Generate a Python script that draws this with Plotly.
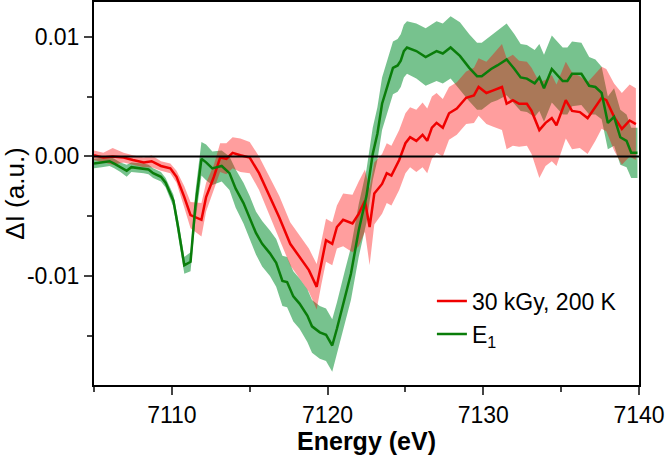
import plotly.graph_objects as go

# ---- data ----
energy_red = [7105.0, 7105.6, 7106.2, 7106.9, 7107.5, 7108.2, 7108.7, 7109.3, 7109.9, 7110.3,
              7110.8, 7111.2, 7111.9, 7112.2, 7112.7, 7113.1, 7113.5, 7113.9, 7114.4, 7115.0,
              7115.6, 7116.3, 7116.9, 7117.6, 7118.2, 7118.8, 7119.3, 7119.6, 7119.9, 7120.3,
              7120.6, 7121.0, 7121.6, 7122.0, 7122.4, 7122.7, 7123.0, 7123.5, 7123.8, 7124.1,
              7124.6, 7125.0, 7125.3, 7125.7, 7126.1, 7126.4, 7126.7, 7127.0, 7127.4, 7127.8,
              7128.3, 7128.9, 7129.4, 7129.7, 7130.2, 7130.6, 7131.2, 7131.5, 7131.9, 7132.3,
              7132.8, 7133.1, 7133.6, 7134.0, 7134.4, 7134.7, 7135.3, 7135.7, 7136.2, 7136.7,
              7137.2, 7137.6, 7137.9, 7138.4, 7138.9, 7139.4, 7139.8]
dI_red = [0.0001, -0.0001, 0.0000, -0.0001, -0.0003, -0.0005, -0.0004, -0.0008, -0.0010, -0.0017,
          -0.0034, -0.0049, -0.0053, -0.0034, -0.0017, -0.0001, -0.0002, 0.0003, 0.0001, -0.0001,
          -0.0014, -0.0034, -0.0051, -0.0073, -0.0084, -0.0095, -0.0109, -0.0089, -0.0070, -0.0073,
          -0.0059, -0.0053, -0.0056, -0.0048, -0.0037, -0.0059, -0.0031, -0.0023, -0.0014, -0.0016,
          -0.0003, 0.0011, 0.0016, 0.0013, 0.0018, 0.0013, 0.0024, 0.0028, 0.0024, 0.0036,
          0.0040, 0.0049, 0.0051, 0.0058, 0.0053, 0.0055, 0.0058, 0.0044, 0.0047, 0.0044,
          0.0044, 0.0038, 0.0022, 0.0028, 0.0032, 0.0026, 0.0047, 0.0038, 0.0037, 0.0032,
          0.0041, 0.0049, 0.0047, 0.0033, 0.0023, 0.0030, 0.0027]
err_red = [0.0004, 0.0004, 0.0007, 0.0004, 0.0004, 0.0004, 0.0005, 0.0004, 0.0004, 0.0005,
           0.0009, 0.0011, 0.0014, 0.0012, 0.0010, 0.0012, 0.0013, 0.0013, 0.0014, 0.0013,
           0.0014, 0.0016, 0.0018, 0.0018, 0.0018, 0.0018, 0.0019, 0.0018, 0.0018, 0.0018,
           0.0018, 0.0022, 0.0024, 0.0027, 0.0026, 0.0032, 0.0026, 0.0025, 0.0025, 0.0025,
           0.0025, 0.0025, 0.0025, 0.0026, 0.0027, 0.0027, 0.0026, 0.0025, 0.0024, 0.0022,
           0.0022, 0.0022, 0.0023, 0.0024, 0.0026, 0.0030, 0.0036, 0.0038, 0.0038, 0.0036,
           0.0035, 0.0036, 0.0040, 0.0036, 0.0036, 0.0034, 0.0032, 0.0032, 0.0030, 0.0030,
           0.0028, 0.0026, 0.0026, 0.0028, 0.0030, 0.0030, 0.0030]

energy_green = [7105.0, 7105.5, 7106.0, 7106.3, 7106.7, 7107.1, 7107.4, 7108.2, 7108.5, 7108.8,
                7109.3, 7109.6, 7110.1, 7110.4, 7110.8, 7111.2, 7111.5, 7111.9, 7112.2, 7112.6,
                7113.2, 7113.7, 7114.1, 7114.6, 7115.0, 7115.4, 7115.8, 7116.3, 7116.7, 7117.1,
                7117.4, 7117.8, 7118.2, 7118.7, 7119.0, 7119.5, 7119.9, 7120.3, 7120.6, 7121.1,
                7121.5, 7122.0, 7122.5, 7122.9, 7123.2, 7123.5, 7123.9, 7124.2, 7124.5, 7124.7,
                7124.9, 7125.1, 7125.7, 7126.3, 7127.0, 7127.4, 7127.9, 7128.5, 7129.1, 7129.6,
                7129.9, 7130.5, 7130.9, 7131.5, 7132.0, 7132.4, 7132.8, 7133.3, 7133.6, 7133.9,
                7134.4, 7134.7, 7135.1, 7135.4, 7135.7, 7136.3, 7136.8, 7137.2, 7137.6, 7138.0,
                7138.4, 7138.8, 7139.2, 7139.5, 7139.9]
dI_green = [-0.0006, -0.0005, -0.0004, -0.0006, -0.0009, -0.0012, -0.0009, -0.0010, -0.0011, -0.0014,
            -0.0017, -0.0022, -0.0037, -0.0059, -0.0091, -0.0088, -0.0043, -0.0002, -0.0005, -0.0010,
            -0.0008, -0.0014, -0.0027, -0.0039, -0.0051, -0.0064, -0.0073, -0.0081, -0.0089, -0.0104,
            -0.0105, -0.0117, -0.0123, -0.0133, -0.0142, -0.0147, -0.0149, -0.0158, -0.0144, -0.0118,
            -0.0098, -0.0062, -0.0033, 0.0002, 0.0019, 0.0044, 0.0061, 0.0074, 0.0076, 0.0080,
            0.0088, 0.0091, 0.0088, 0.0083, 0.0088, 0.0086, 0.0091, 0.0084, 0.0074, 0.0067,
            0.0067, 0.0073, 0.0076, 0.0081, 0.0073, 0.0066, 0.0065, 0.0061, 0.0066, 0.0057,
            0.0073, 0.0069, 0.0063, 0.0063, 0.0069, 0.0069, 0.0059, 0.0058, 0.0053, 0.0028,
            0.0033, 0.0016, 0.0013, 0.0003, 0.0003]
err_green = [0.0004, 0.0004, 0.0004, 0.0004, 0.0004, 0.0005, 0.0004, 0.0004, 0.0004, 0.0004,
             0.0004, 0.0004, 0.0005, 0.0006, 0.0007, 0.0008, 0.0012, 0.0014, 0.0015, 0.0014,
             0.0013, 0.0014, 0.0016, 0.0017, 0.0018, 0.0018, 0.0019, 0.0019, 0.0020, 0.0021,
             0.0021, 0.0021, 0.0021, 0.0022, 0.0022, 0.0022, 0.0022, 0.0022, 0.0022, 0.0022,
             0.0022, 0.0022, 0.0022, 0.0022, 0.0022, 0.0022, 0.0022, 0.0022, 0.0022, 0.0022,
             0.0022, 0.0022, 0.0023, 0.0024, 0.0025, 0.0025, 0.0026, 0.0028, 0.0028, 0.0028,
             0.0028, 0.0028, 0.0029, 0.0030, 0.0029, 0.0028, 0.0028, 0.0028, 0.0028, 0.0028,
             0.0028, 0.0028, 0.0028, 0.0028, 0.0027, 0.0026, 0.0024, 0.0023, 0.0022, 0.0022,
             0.0024, 0.0023, 0.0022, 0.0021, 0.0021]

label_red = "30 kGy, 200 K"
label_green = "E<sub>1</sub>"
x_ticks = [7110, 7120, 7130, 7140]
y_ticks = [-0.01, 0.0, 0.01]
y_ticklabels = ["-0.01", "0.00", "0.01"]

assert len(energy_red) == len(dI_red) == len(err_red)
assert len(energy_green) == len(dI_green) == len(err_green)


def band(x, y, e):
    upper = [a + b for a, b in zip(y, e)]
    lower = [a - b for a, b in zip(y, e)]
    return list(x) + list(x)[::-1], upper + lower[::-1]


FONT = "Arial, 'Liberation Sans', sans-serif"
fig = go.Figure()

bx, by = band(energy_green, dI_green, err_green)
fig.add_trace(go.Scatter(x=bx, y=by, fill="toself", mode="lines", line=dict(width=0),
                         fillcolor="rgba(20,150,60,0.58)", showlegend=False, hoverinfo="skip"))
bx, by = band(energy_red, dI_red, err_red)
fig.add_trace(go.Scatter(x=bx, y=by, fill="toself", mode="lines", line=dict(width=0),
                         fillcolor="rgba(255,0,0,0.38)", showlegend=False, hoverinfo="skip"))
fig.add_trace(go.Scatter(x=energy_red, y=dI_red, mode="lines", name=label_red,
                         line=dict(color="#f00000", width=2.5)))
fig.add_trace(go.Scatter(x=energy_green, y=dI_green, mode="lines", name=label_green,
                         line=dict(color="#0a7d0a", width=2.5)))

fig.add_shape(type="line", xref="paper", yref="y", x0=0, x1=1, y0=0, y1=0,
              line=dict(color="black", width=2), layer="above")

fig.update_layout(
    width=666, height=455,
    margin=dict(l=94, r=27, t=2, b=70),
    paper_bgcolor="white", plot_bgcolor="white",
    font=dict(family=FONT, size=23, color="black"),
    legend=dict(x=0.62, y=0.275, xanchor="left", yanchor="top",
                bgcolor="rgba(0,0,0,0)", font=dict(size=23), tracegroupgap=0),
    xaxis=dict(range=[7105, 7140], tickvals=x_ticks, ticks="outside", ticklen=8, tickwidth=2,
               showline=True, linewidth=2, linecolor="black", mirror=True, showgrid=False,
               zeroline=False, tickfont=dict(size=23), automargin=False,
               minor=dict(tickvals=[7105, 7115, 7125, 7135], ticks="outside", ticklen=5, tickwidth=2),
               title=dict(text="<b>Energy (eV)</b>", font=dict(size=25), standoff=2)),
    yaxis=dict(range=[-0.0191, 0.0129], tickvals=y_ticks, ticktext=y_ticklabels,
               ticks="outside", ticklen=8, tickwidth=2,
               showline=True, linewidth=2, linecolor="black", mirror=True, showgrid=False,
               zeroline=False, tickfont=dict(size=23), automargin=False,
               minor=dict(tickvals=[-0.015, -0.005, 0.005], ticks="outside", ticklen=5, tickwidth=2),
               title=dict(text="ΔI (a.u.)", font=dict(size=26), standoff=4)),
)

fig.write_html("out.html", config={"displayModeBar": False},
               post_script="document.body.style.margin='0';document.body.style.overflow='hidden';")
